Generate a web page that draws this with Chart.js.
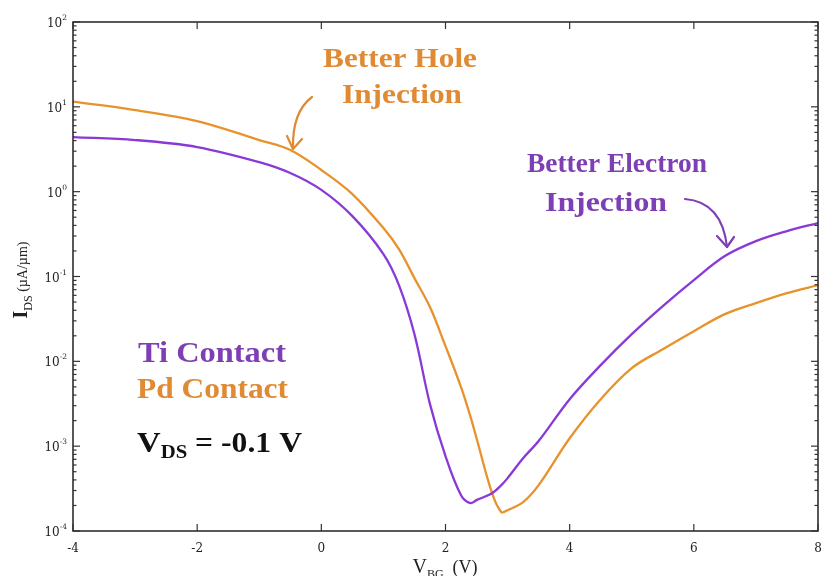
<!DOCTYPE html>
<html>
<head>
<meta charset="utf-8">
<script src="https://cdn.jsdelivr.net/npm/chart.js@4"></script>
<style>
html,body{margin:0;padding:0;background:#fff;}
#wrap{width:823px;height:576px;position:relative;}
</style>
</head>
<body>
<div id="wrap"><canvas id="c" width="823" height="576"></canvas></div>
<script>
// ---- data ----
const gateVoltage = [-4, -3, -2, -1, -0.5, 0, 0.5, 1, 1.25, 1.5, 1.75, 2, 2.25, 2.4, 2.5, 2.75, 2.9, 3, 3.25, 3.5, 4, 4.5, 5, 5.5, 6, 6.5, 7, 7.5, 8];
const tiCurrent = [4.40, 4.06, 3.36, 2.23, 1.66, 1.05, 0.515, 0.184, 0.0792, 0.0209, 0.00313, 0.000762, 0.000264, 0.000213, 0.000231, 0.000279, 0.000347, 0.000420, 0.000721, 0.00115, 0.00358, 0.00902, 0.0209, 0.0448, 0.0908, 0.174, 0.261, 0.343, 0.427];
const pdCurrent = [11.5, 9.17, 6.8, 4.06, 3.10, 1.80, 0.937, 0.372, 0.210, 0.0957, 0.0436, 0.0151, 0.00497, 0.00226, 0.00124, 0.000279, 0.000167, 0.000176, 0.000219, 0.000347, 0.00124, 0.00358, 0.00832, 0.0139, 0.0227, 0.0360, 0.0486, 0.0637, 0.0792];
const xTickValues = [-4, -2, 0, 2, 4, 6, 8];
const yTickExponents = [-4, -3, -2, -1, 0, 1, 2];
const seriesNames = ['Ti Contact', 'Pd Contact'];

const PURPLE = '#8a38d6';
const ORANGE = '#e8922c';
const PURPLE_TXT = '#7f3fb4';
const ORANGE_TXT = '#e08a34';
const SERIF = '"Liberation Serif", "DejaVu Serif", serif';
const TICKFONT = '"DejaVu Serif", "Liberation Serif", serif';

function toPoints(xs, ys){ return xs.map((x,i)=>({x:x, y:ys[i]})); }

function fontStr(s){ return (s.bold?'bold ':'')+s.size+'px '+(s.family||SERIF); }
function richWidth(ctx, segs){
  let w=0;
  segs.forEach(s=>{ctx.font=fontStr(s); w+=ctx.measureText(s.t).width;});
  return w;
}
function drawRich(ctx, segs, x, y, align, targetW){
  const w = richWidth(ctx, segs);
  const sx = targetW ? targetW/w : 1;
  const tw = w*sx;
  let cx = align==='center' ? x - tw/2 : (align==='right' ? x - tw : x);
  ctx.save();
  ctx.translate(cx, y); ctx.scale(sx, 1);
  ctx.textAlign='left'; ctx.textBaseline='alphabetic';
  let ox = 0;
  segs.forEach(s=>{
    ctx.font=fontStr(s);
    ctx.fillText(s.t, ox, (s.dy||0));
    ox += ctx.measureText(s.t).width;
  });
  ctx.restore();
}
function drawFitH(ctx, text, left, right, baseline, size, color){
  ctx.fillStyle=color;
  drawRich(ctx, [{t:text, size:size, bold:true}], left, baseline, 'left', right-left);
}
function arrow(ctx, x0,y0,cx,cy,x1,y1, h1, h2, color){
  ctx.save();
  ctx.strokeStyle=color; ctx.lineWidth=2.2; ctx.lineCap='round'; ctx.lineJoin='round';
  ctx.beginPath(); ctx.moveTo(x0,y0); ctx.quadraticCurveTo(cx,cy,x1,y1); ctx.stroke();
  ctx.beginPath(); ctx.moveTo(h1[0],h1[1]); ctx.lineTo(x1,y1); ctx.lineTo(h2[0],h2[1]); ctx.stroke();
  ctx.restore();
}

const decor = {
  id:'decor',
  afterDraw(chart){
    const ctx = chart.ctx, a = chart.chartArea;
    const xs = chart.scales.x, ys = chart.scales.y;
    ctx.save();
    // frame
    ctx.strokeStyle='#222'; ctx.lineWidth=1.5;
    ctx.strokeRect(a.left, a.top, a.right-a.left, a.bottom-a.top);
    // x ticks (inward, bottom and top)
    ctx.lineWidth=1.2; ctx.strokeStyle='#333';
    xTickValues.forEach(v=>{
      const px = xs.getPixelForValue(v);
      ctx.beginPath(); ctx.moveTo(px,a.bottom); ctx.lineTo(px,a.bottom-7); ctx.stroke();
      ctx.beginPath(); ctx.moveTo(px,a.top); ctx.lineTo(px,a.top+7); ctx.stroke();
    });
    // y ticks, major + minor, both sides
    yTickExponents.forEach(e=>{
      const py = ys.getPixelForValue(Math.pow(10,e));
      ctx.beginPath(); ctx.moveTo(a.left,py); ctx.lineTo(a.left+7,py); ctx.stroke();
      ctx.beginPath(); ctx.moveTo(a.right,py); ctx.lineTo(a.right-7,py); ctx.stroke();
      if(e<2){
        for(let m=2;m<10;m++){
          const pm = ys.getPixelForValue(m*Math.pow(10,e));
          ctx.beginPath(); ctx.moveTo(a.left,pm); ctx.lineTo(a.left+3.5,pm); ctx.stroke();
          ctx.beginPath(); ctx.moveTo(a.right,pm); ctx.lineTo(a.right-3.5,pm); ctx.stroke();
        }
      }
    });
    // tick labels
    ctx.fillStyle='#222';
    xTickValues.forEach(v=>{
      const px = xs.getPixelForValue(v);
      ctx.font='12px '+TICKFONT; ctx.textAlign='center'; ctx.textBaseline='alphabetic';
      ctx.fillText(String(v), px, a.bottom+21);
    });
    yTickExponents.forEach(e=>{
      const py = ys.getPixelForValue(Math.pow(10,e));
      drawRich(ctx, [{t:'10', size:12, family:TICKFONT},{t:String(e), size:7.5, dy:-7, family:TICKFONT}], a.left-6, py+5, 'right');
    });
    // axis titles
    ctx.fillStyle='#222';
    drawRich(ctx, [{t:'V', size:20},{t:'BG', size:12, dy:5},{t:'  (V)', size:18}], 445, 573, 'center');
    ctx.save();
    ctx.translate(22, 280); ctx.rotate(-Math.PI/2);
    drawRich(ctx, [{t:'I', size:20, bold:true},{t:'DS', size:12, dy:5},{t:' (\u00b5A/\u00b5m)', size:14}], 0, 5, 'center');
    ctx.restore();

    // annotations
    drawFitH(ctx, 'Better Hole', 323, 477, 67, 28, ORANGE_TXT);
    drawFitH(ctx, 'Injection', 342, 462, 103, 28, ORANGE_TXT);
    drawFitH(ctx, 'Better Electron', 527, 707, 172, 28, PURPLE_TXT);
    drawFitH(ctx, 'Injection', 545, 667, 211, 28, PURPLE_TXT);
    drawFitH(ctx, seriesNames[0], 138, 286, 362, 30, PURPLE_TXT);
    drawFitH(ctx, seriesNames[1], 137, 288, 398, 30, ORANGE_TXT);
    ctx.fillStyle='#111';
    drawRich(ctx, [{t:'V', size:30, bold:true},{t:'DS', size:19, bold:true, dy:6},{t:' = -0.1 V', size:29, bold:true}], 137, 452, 'left', 165);

    arrow(ctx, 312,97, 292,112, 293,149, [287,136],[302,139], ORANGE_TXT);
    arrow(ctx, 685,199, 722,202, 727,247, [717,236],[734,237], PURPLE_TXT);
    ctx.restore();
  }
};

new Chart(document.getElementById('c'), {
  type:'line',
  data:{
    datasets:[
      {label:seriesNames[0], data:toPoints(gateVoltage, tiCurrent), borderColor:PURPLE, borderWidth:2.3, pointRadius:0, tension:0.35, fill:false},
      {label:seriesNames[1], data:toPoints(gateVoltage, pdCurrent), borderColor:ORANGE, borderWidth:2.3, pointRadius:0, tension:0.35, fill:false}
    ]
  },
  options:{
    responsive:false, animation:false, events:[],
    layout:{padding:{top:22, right:5, left:0, bottom:0}},
    plugins:{legend:{display:false}, tooltip:{enabled:false}},
    scales:{
      x:{type:'linear', min:-4, max:8,
         grid:{display:false}, border:{display:false},
         ticks:{display:false, stepSize:2},
         afterFit(s){ s.height = 45; }},
      y:{type:'logarithmic', min:1e-4, max:100,
         grid:{display:false}, border:{display:false},
         ticks:{display:false},
         afterFit(s){ s.width = 73; }}
    }
  },
  plugins:[decor]
});
</script>
</body>
</html>
